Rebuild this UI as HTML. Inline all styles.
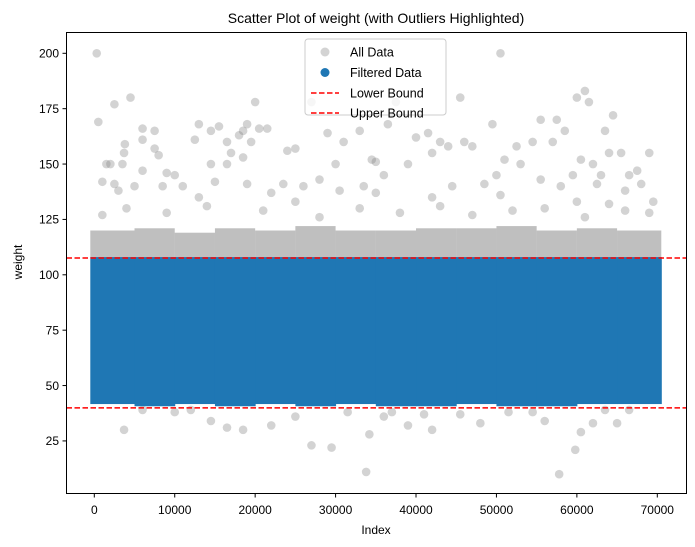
<!DOCTYPE html>
<html><head><meta charset="utf-8">
<style>
html,body{margin:0;padding:0;background:#fff;}
svg{display:block;font-family:"Liberation Sans","DejaVu Sans",sans-serif;}
</style></head>
<body>
<svg id="chart" width="695" height="547" viewBox="0 0 695 547">
<rect x="0" y="0" width="695" height="547" fill="#fff"/>
<text x="376" y="23" font-size="14" text-anchor="middle" fill="#000">Scatter Plot of weight (with Outliers Highlighted)</text>
<g id="plot"></g>
<rect x="66.5" y="32.5" width="620" height="461" fill="none" stroke="#000" stroke-width="1"/>
<g id="xticks"></g>
<g id="yticks"></g>
<text x="376" y="534" font-size="12" text-anchor="middle">Index</text>
<text x="0" y="0" font-size="12" text-anchor="middle" transform="translate(22,262) rotate(-90)">weight</text>
<g>
<rect x="305" y="39" width="141" height="76" rx="3" fill="#fff" fill-opacity="0.8" stroke="#ccc"/>
<circle cx="325" cy="52" r="4.5" fill="#808080" fill-opacity="0.35"/>
<text x="350" y="56.5" font-size="12.5">All Data</text>
<circle cx="325" cy="72.5" r="4.5" fill="#1f77b4"/>
<text x="350" y="77" font-size="12.5">Filtered Data</text>
<line x1="311" y1="93" x2="339" y2="93" stroke="#ff0000" stroke-width="1.5" stroke-dasharray="5.5,2.5"/>
<text x="350" y="97.5" font-size="12.5">Lower Bound</text>
<line x1="311" y1="113" x2="339" y2="113" stroke="#ff0000" stroke-width="1.5" stroke-dasharray="5.5,2.5"/>
<text x="350" y="117.5" font-size="12.5">Upper Bound</text>
</g>
</svg>
<script>
const xTicks=[0,10000,20000,30000,40000,50000,60000,70000];
const yTicks=[25,50,75,100,125,150,175,200];
const lowerBound=39.9;
const upperBound=107.6;
const binStarts=[0,5000,10000,15000,20000,25000,30000,35000,40000,45000,50000,55000,60000,65000];
const blueMin=[43,42,43,42,43,42,43,42,42,43,42,42,43,43];
const blueMax=[108,108,108,108,108,108,108,108,108,108,108,108,108,108];
const grayTop=[120,121,119,121,120,122,120,120,121,121,122,120,121,120];
const outIdx=[300,50500,500,2500,4500,1500,2000,3800,3700,3500,6000,6000,7500,7500,8000,9000,10000,12500,13000,14500,14500,15500,16500,16500,17000,18000,18500,19000,18500,19500,20000,20500,21500,24000,25000,27000,29000,30000,31000,33000,34500,35000,36500,37500,40000,41500,42000,43000,44000,45500,46000,49500,50000,51000,52500,54500,55500,57500,58500,60000,61000,61500,60500,62000,63500,64000,64500,65500,66500,67500,69000,63000,59500,57000,53000,47000,39000,36000,30500,26000,22000,11000,8500,5000,1000,2500,3000,15000,19000,23500,28000,33500,44500,48500,55500,58000,62500,66000,68000,6000,13000,25000,35000,42000,50500,60000,64000,69500,3700,6000,10000,14500,16500,18500,22000,25000,27000,29500,31500,33800,34200,36000,39000,42000,45500,48000,51500,54500,56000,57800,59800,60500,62000,63500,65000,66500,41000,37000,12000,1000,4000,9000,14000,21000,28000,33000,38000,43000,47000,52000,56000,61000,66000,69000];
const outVal=[200,200,169,177,180,150,150,159,155,150,166,161,165,157,154,146,145,161,168,150,165,167,150,160,155,163,165,168,153,160,178,166,166,156,157,178,164,150,160,165,152,151,168,178,162,164,155,160,158,180,160,168,145,152,158,160,170,170,165,180,183,178,152,150,165,155,172,155,145,147,155,145,145,160,150,158,150,145,138,140,137,140,140,140,142,141,138,142,141,141,143,140,140,141,143,140,141,138,141,147,135,133,137,135,136,133,132,133,30,39,38,34,31,30,32,36,23,22,38,11,28,36,32,30,37,33,38,38,34,10,21,29,33,39,33,39,37,38,39,127,130,128,131,129,126,130,128,131,127,129,130,126,129,128];

const NS="http://www.w3.org/2000/svg";
function xs(v){return 94.3+v*(563/70000);}
function ys(v){return 53.3+(200-v)*2.215;}
function mk(tag,attrs,parent){const e=document.createElementNS(NS,tag);for(const k in attrs)e.setAttribute(k,attrs[k]);parent.appendChild(e);return e;}
const plot=document.getElementById('plot');
function binX0(i){return i===0?xs(binStarts[i])-4:xs(binStarts[i]);}
function binX1(i){const end=Math.min(binStarts[i]+5000,70000);return i===binStarts.length-1?xs(end)+4:xs(end);}
binStarts.forEach((b,i)=>{
  const r=mk('rect',{x:binX0(i),y:ys(grayTop[i]),width:binX1(i)-binX0(i),height:ys(upperBound)-ys(grayTop[i]),fill:'#808080','fill-opacity':'0.5'},plot);
  
  
});
for(let i=0;i<outIdx.length;i++){
  const c=mk('circle',{cx:xs(outIdx[i]),cy:ys(outVal[i]),r:4.3,fill:'#808080','fill-opacity':'0.35'},plot);
  
  
}
binStarts.forEach((b,i)=>{
  const r=mk('rect',{x:binX0(i),y:ys(blueMax[i]),width:binX1(i)-binX0(i)+0.5,height:ys(blueMin[i])-ys(blueMax[i])+3,fill:'#1f77b4'},plot);
  
  
});
[[lowerBound,'lower-bound-line'],[upperBound,'upper-bound-line']].forEach(([v,n])=>{
  const l=mk('line',{x1:66.5,x2:686.5,y1:ys(v),y2:ys(v),stroke:'#ff0000','stroke-width':1.5,'stroke-dasharray':'5.5,2.5'},plot);
  
  
});
const xg=document.getElementById('xticks');
xTicks.forEach(t=>{
  const l=mk('line',{x1:xs(t),x2:xs(t),y1:493.5,y2:497.5,stroke:'#000'},xg);
  
  
  const tx=mk('text',{x:xs(t),y:514,'font-size':12,'text-anchor':'middle'},xg);
  tx.textContent=t;
  
  
});
const yg=document.getElementById('yticks');
yTicks.forEach(t=>{
  const l=mk('line',{x1:62.5,x2:66.5,y1:ys(t),y2:ys(t),stroke:'#000'},yg);
  
  
  const tx=mk('text',{x:59,y:ys(t)+4.3,'font-size':12,'text-anchor':'end'},yg);
  tx.textContent=t;
  
  
});
</script>
</body></html>
